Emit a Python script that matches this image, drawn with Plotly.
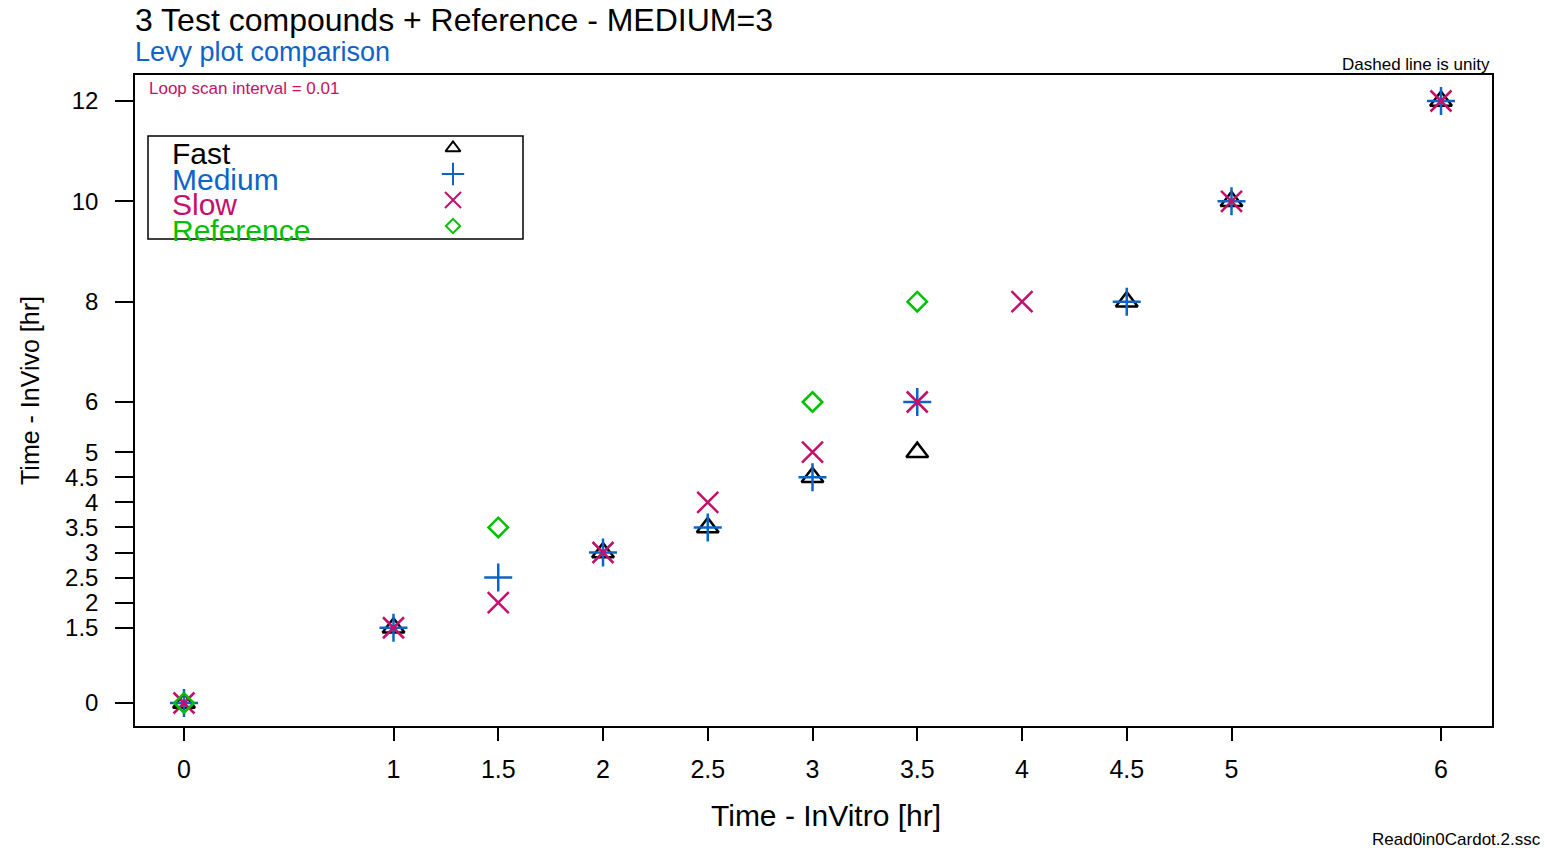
import plotly.graph_objects as go

# ---- data ----
fast_x = [0, 1, 2, 2.5, 3, 3.5, 4.5, 5, 6]
fast_y = [0, 1.5, 3, 3.5, 4.5, 5, 8, 10, 12]
medium_x = [0, 1, 1.5, 2, 2.5, 3, 3.5, 4.5, 5, 6]
medium_y = [0, 1.5, 2.5, 3, 3.5, 4.5, 6, 8, 10, 12]
slow_x = [0, 1, 1.5, 2, 2.5, 3, 3.5, 4, 5, 6]
slow_y = [0, 1.5, 2, 3, 4, 5, 6, 8, 10, 12]
ref_x = [0, 1.5, 3, 3.5]
ref_y = [0, 3.5, 6, 8]

x_ticks = [0, 1, 1.5, 2, 2.5, 3, 3.5, 4, 4.5, 5, 6]
y_ticks = [0, 1.5, 2, 2.5, 3, 3.5, 4, 4.5, 5, 6, 8, 10, 12]
legend_names = ["Fast", "Medium", "Slow", "Reference"]

BLACK = "#000000"
BLUE = "#0c64c8"
MAGENTA = "#c4106a"
GREEN = "#00c000"
FONT = "Liberation Sans, Arial, sans-serif"

W, H = 1545, 848
L, R, T, B = 135, 1492, 75, 726
pw, ph = R - L, B - T


def px(x):
    return (x - L) / pw


def py(y):
    return (B - y) / ph


styles = [
    dict(symbol="triangle-up-open", size=19, color=BLACK, lw=2.5),
    dict(symbol="cross-thin-open", size=20, color=BLUE, lw=2.5),
    dict(symbol="x-thin-open", size=21, color=MAGENTA, lw=2.5),
    dict(symbol="diamond-open", size=15, color=GREEN, lw=2.5),
]
series = [(fast_x, fast_y), (medium_x, medium_y), (slow_x, slow_y), (ref_x, ref_y)]

fig = go.Figure()
for (xs, ys), st, nm in zip(series, styles, legend_names):
    fig.add_trace(go.Scatter(
        x=xs, y=ys, mode="markers", name=nm, showlegend=False,
        marker=dict(symbol=st["symbol"], size=st["size"], color=st["color"],
                    line=dict(color=st["color"], width=st["lw"])),
    ))

# custom legend (markers on an overlay axis in paper-like units)
leg_mark_px_x = 453
leg_mark_px_y = [148, 174, 200, 226]
leg_text_px_y = [153, 179, 205, 231]
leg_colors = [BLACK, BLUE, MAGENTA, GREEN]
leg_sizes = [13, 16, 16, 11]
for i, (st, nm) in enumerate(zip(styles, legend_names)):
    fig.add_trace(go.Scatter(
        x=[px(leg_mark_px_x)], y=[py(leg_mark_px_y[i])], mode="markers",
        xaxis="x2", yaxis="y2", showlegend=False, hoverinfo="skip",
        marker=dict(symbol=st["symbol"], size=leg_sizes[i], color=st["color"],
                    line=dict(color=st["color"], width=2)),
    ))

annotations = []
for i, nm in enumerate(legend_names):
    annotations.append(dict(
        text=nm, x=px(170), y=py(leg_text_px_y[i]), xref="paper", yref="paper",
        xanchor="left", yanchor="middle", showarrow=False,
        font=dict(family=FONT, size=30, color=leg_colors[i]),
    ))

annotations += [
    dict(text="3 Test compounds + Reference - MEDIUM=3", x=px(133), y=py(20),
         xref="paper", yref="paper", xanchor="left", yanchor="middle",
         showarrow=False, font=dict(family=FONT, size=32, color=BLACK)),
    dict(text="Levy plot comparison", x=px(133), y=py(52),
         xref="paper", yref="paper", xanchor="left", yanchor="middle",
         showarrow=False, font=dict(family=FONT, size=27, color=BLUE)),
    dict(text="Dashed line is unity", x=px(1492), y=py(65),
         xref="paper", yref="paper", xanchor="right", yanchor="middle",
         showarrow=False, font=dict(family=FONT, size=17, color=BLACK)),
    dict(text="Loop scan interval = 0.01", x=px(147), y=py(89),
         xref="paper", yref="paper", xanchor="left", yanchor="middle",
         showarrow=False, font=dict(family=FONT, size=17, color=MAGENTA)),
    dict(text="Read0in0Cardot.2.ssc", x=px(1543), y=py(839),
         xref="paper", yref="paper", xanchor="right", yanchor="middle",
         showarrow=False, font=dict(family=FONT, size=17, color=BLACK)),
    dict(text="Time - InVitro [hr]", x=px(826), y=py(815),
         xref="paper", yref="paper", xanchor="center", yanchor="middle",
         showarrow=False, font=dict(family=FONT, size=30, color=BLACK)),
    dict(text="Time - InVivo [hr]", x=px(30), y=py(390), textangle=-90,
         xref="paper", yref="paper", xanchor="center", yanchor="middle",
         showarrow=False, font=dict(family=FONT, size=25, color=BLACK)),
]

shapes = [dict(type="rect", xref="paper", yref="paper",
               x0=px(148), x1=px(523), y0=py(239), y1=py(136),
               line=dict(color=BLACK, width=1.5), fillcolor="rgba(0,0,0,0)",
               layer="above")]

x0px = 184
x_unit = (1441 - 184) / 6
y0px = 703
y_unit = (703 - 101) / 12

fig.update_layout(
    width=W, height=H,
    margin=dict(l=L, r=W - R, t=T, b=H - B, autoexpand=False),
    plot_bgcolor="white", paper_bgcolor="white",
    showlegend=False,
    font=dict(family=FONT, color=BLACK),
    xaxis=dict(
        range=[(L - x0px) / x_unit, (R - x0px) / x_unit],
        tickvals=x_ticks, ticktext=[f"{v:g}" for v in x_ticks],
        ticks="outside", ticklen=13, tickwidth=1.5, tickcolor=BLACK,
        showline=True, linecolor=BLACK, linewidth=1.5, mirror=True,
        showgrid=False, zeroline=False,
        tickfont=dict(family=FONT, size=25, color=BLACK),
        ticklabelstandoff=7,
    ),
    yaxis=dict(
        range=[(y0px - B) / y_unit, (y0px - T) / y_unit],
        tickvals=y_ticks, ticktext=[f"{v:g}" for v in y_ticks],
        ticks="outside", ticklen=18, tickwidth=1.5, tickcolor=BLACK,
        showline=True, linecolor=BLACK, linewidth=1.5, mirror=True,
        showgrid=False, zeroline=False,
        tickfont=dict(family=FONT, size=24, color=BLACK),
        ticklabelstandoff=12,
    ),
    xaxis2=dict(range=[0, 1], overlaying="x", visible=False, fixedrange=True),
    yaxis2=dict(range=[0, 1], overlaying="y", visible=False, fixedrange=True),
    annotations=annotations,
    shapes=shapes,
)

fig.write_html("out.html")
